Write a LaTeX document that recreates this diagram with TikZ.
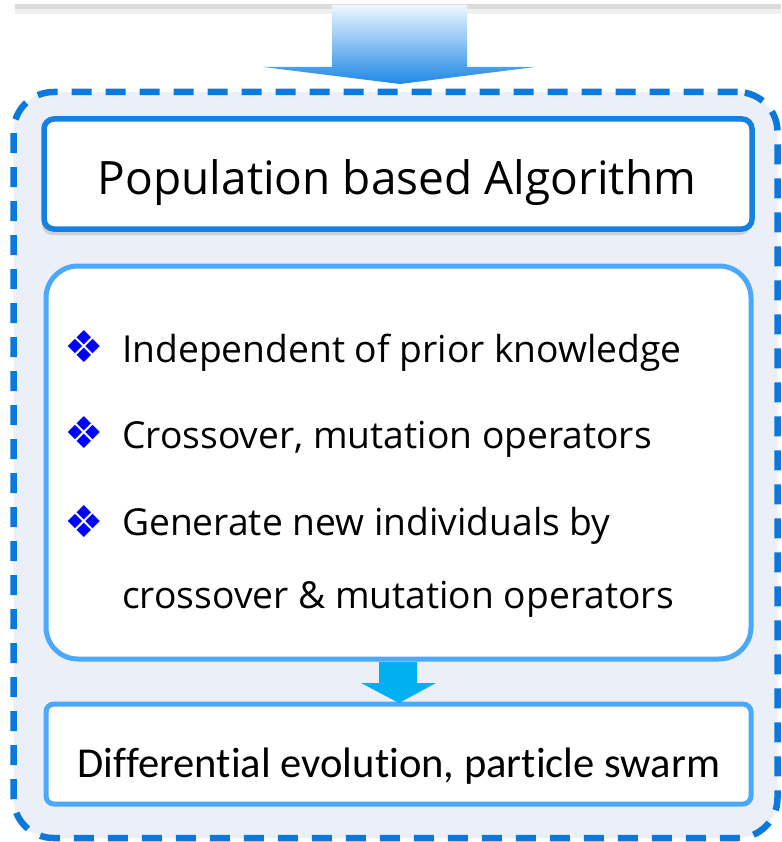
\documentclass[tikz,border=0pt]{standalone}
\usepackage{fontspec}
\setmainfont{Open Sans}
\newfontfamily\calfont[Ligatures=NoCommon]{Carlito}
\newfontfamily\symfont{DejaVu Sans}
\usetikzlibrary{shadows,fadings}
\definecolor{dashblue}{HTML}{0B78DC}
\definecolor{titleblue}{HTML}{1580E0}
\definecolor{lightborder}{HTML}{4BA8FA}
\definecolor{panelfill}{HTML}{EBF0F8}
\definecolor{arrowtop}{HTML}{EEF7FF}
\definecolor{arrowbot}{HTML}{1E88E5}
\definecolor{smallarrow}{HTML}{00B0F0}
\tikzset{
  outerbox/.style={draw=dashblue, line width=6.5pt, dash pattern=on 20pt off 14pt, fill=panelfill, rounded corners=40pt},
  titlebox/.style={draw=titleblue, line width=5.5pt, fill=white, rounded corners=10pt, drop shadow={shadow xshift=-2pt, shadow yshift=-6pt, opacity=0.22, fill=black!60}},
  listbox/.style={draw=lightborder, line width=5pt, fill=white, rounded corners=32pt},
  resbox/.style={draw=lightborder, line width=5pt, fill=white, rounded corners=8pt},
  bullet/.style={text=blue, font=\symfont\fontsize{44}{44}\selectfont, inner sep=0pt},
  item/.style={anchor=base west, font=\fontsize{37.2}{40}\selectfont, inner sep=0pt},
}
\begin{document}
\begin{tikzpicture}[x=1pt,y=-1pt]
\useasboundingbox (0,0) rectangle (781,842);
% top box remnant with shadow
\fill[black!14] (15,0) rectangle (781,9);
\fill[black!6] (15,9) rectangle (781,14);
\fill[white] (15,0) rectangle (781,4);
% big arrow
\shade[top color=arrowtop, bottom color=arrowbot] (332,5) -- (467,5) -- (467,67) -- (535,67) -- (400,84) -- (263,67) -- (332,67) -- cycle;
% outer dashed panel
\node[outerbox, minimum width=764pt, minimum height=746pt, inner sep=0pt] (outer) at (395.5,465) {};
% title
\node[titlebox, minimum width=708pt, minimum height=110pt, inner sep=0pt] (title) at (398,174) {};
\node[anchor=base, font=\fontsize{46}{50}\selectfont, inner sep=0pt] (titletext) at (397,195) {Population based Algorithm};
% list box
\node[listbox, minimum width=705pt, minimum height=393pt, inner sep=0pt] (list) at (398.5,462.5) {};
\node[bullet] (b1) at (84,347) {❖};
\node[bullet] (b2) at (84,433) {❖};
\node[bullet] (b3) at (84,522) {❖};
\node[item] (t1) at (122,362) {Independent of prior knowledge};
\node[item] (t2) at (122,448) {Crossover, mutation operators};
\node[item] (t3) at (122,535) {Generate new individuals by};
\node[item] (t4) at (122,608) {crossover \& mutation operators};
% result box
\node[resbox, minimum width=705pt, minimum height=100pt, inner sep=0pt] (res) at (398.5,754) {};
\node[font=\calfont\fontsize{42.6}{46}\selectfont, anchor=base, inner sep=0pt] (restext) at (399,777) {Differential evolution, particle swarm};
% small arrow
\fill[smallarrow] (379,662) -- (417,662) -- (417,683) -- (436,683) -- (399,703) -- (361,683) -- (379,683) -- cycle;
\end{tikzpicture}
\end{document}
